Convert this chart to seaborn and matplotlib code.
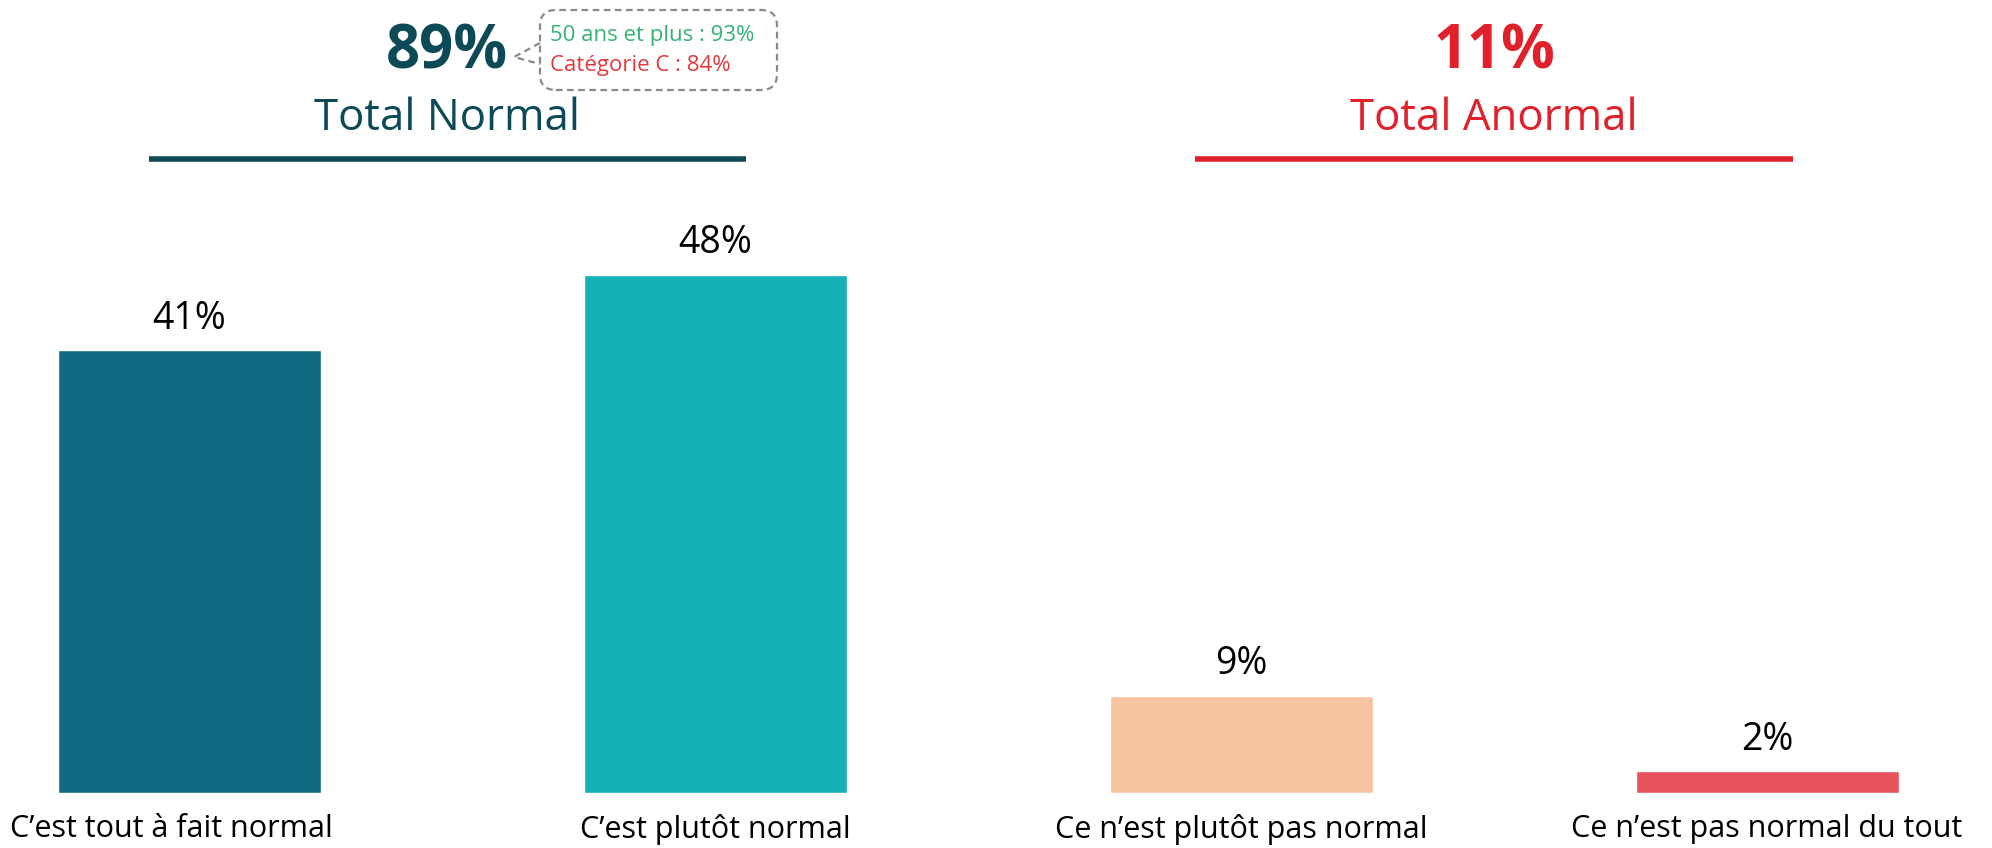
import matplotlib
matplotlib.use("Agg")
import matplotlib.pyplot as plt
from matplotlib.patches import FancyBboxPatch
from matplotlib.lines import Line2D
from matplotlib.transforms import ScaledTranslation
import seaborn as sns

categories = ["C’est tout à fait normal", "C’est plutôt normal",
              "Ce n’est plutôt pas normal", "Ce n’est pas normal du tout"]
values = [41, 48, 9, 2]
bar_colors = ["#0f6b80", "#14b0b8", "#f7c4a2", "#e5525a"]

totals = ["89%", "11%"]
total_names = ["Total Normal", "Total Anormal"]
total_colors = ["#0d4a58", "#e0202a"]

callout_lines = ["50 ans et plus : 93%", "Catégorie C : 84%"]
callout_colors = ["#35b274", "#e0393e"]

sns.set_style("white")
plt.rcParams["font.family"] = ["Open Sans", "DejaVu Sans"]

W, H = 1992, 848
fig = plt.figure(figsize=(W / 100, H / 100), dpi=100)

# bar area: baseline 55 px from bottom, ~10.8 px per percent
ax_h = 600
ax = fig.add_axes([0, 55 / H, 1, ax_h / H])
sns.barplot(x=categories, y=values, hue=categories, palette=bar_colors,
            width=0.5, saturation=1, legend=False, ax=ax)
spacing = 526
ax.set_xlim(-189 / spacing, (W - 189) / spacing)
ax.set_ylim(0, ax_h / 10.8)
for c in ax.containers:
    ax.bar_label(c, labels=[f"{v:.0f}%" for v in c.datavalues], padding=9,
                 fontsize=27, color="black")
ax.set_yticks([])
ax.set_xlabel("")
ax.set_ylabel("")
ax.tick_params(axis="x", length=0, pad=15, labelsize=22, labelcolor="black")
sns.despine(ax=ax, left=True, bottom=True)
# first label sits a bit left of its bar, as in the original
first = ax.get_xticklabels()[0]
first.set_transform(first.get_transform() + ScaledTranslation(-0.18, 0, fig.dpi_scale_trans))


# group headers
def fx(px):
    return px / W


def fy(px):
    return 1 - px / H


centers = [447, 1494]
for i in range(2):
    fig.text(fx(centers[i]), fy(53), totals[i], ha="center", va="center",
             fontsize=43, fontweight="bold", color=total_colors[i])
    fig.text(fx(centers[i]), fy(119), total_names[i], ha="center", va="center",
             fontsize=31.5, color=total_colors[i])
underlines = [(149, 746), (1195, 1793)]
for (x0, x1), col in zip(underlines, total_colors):
    fig.add_artist(Line2D([fx(x0), fx(x1)], [fy(159), fy(159)], color=col,
                          lw=4, solid_capstyle="butt",
                          transform=fig.transFigure))

# callout box
bx0, by0, bx1, by1 = 540, 10, 777, 90
box = FancyBboxPatch((fx(bx0), fy(by1)), fx(bx1 - bx0), (by1 - by0) / H,
                     boxstyle="round,pad=0,rounding_size=0.008",
                     transform=fig.transFigure, fill=False, edgecolor="#8a8a8a",
                     linestyle=(0, (3, 2)), lw=1.6, mutation_aspect=W / H)
fig.add_artist(box)
fig.add_artist(Line2D([fx(bx0), fx(514), fx(bx0)], [fy(43), fy(57), fy(64)],
                      color="#8a8a8a", lw=1.6, linestyle=(0, (3, 2)),
                      transform=fig.transFigure))
fig.text(fx(550), fy(36), callout_lines[0], ha="left", va="center",
         fontsize=16, color=callout_colors[0])
fig.text(fx(550), fy(65), callout_lines[1], ha="left", va="center",
         fontsize=16, color=callout_colors[1])

fig.savefig("out.png", dpi=100)
